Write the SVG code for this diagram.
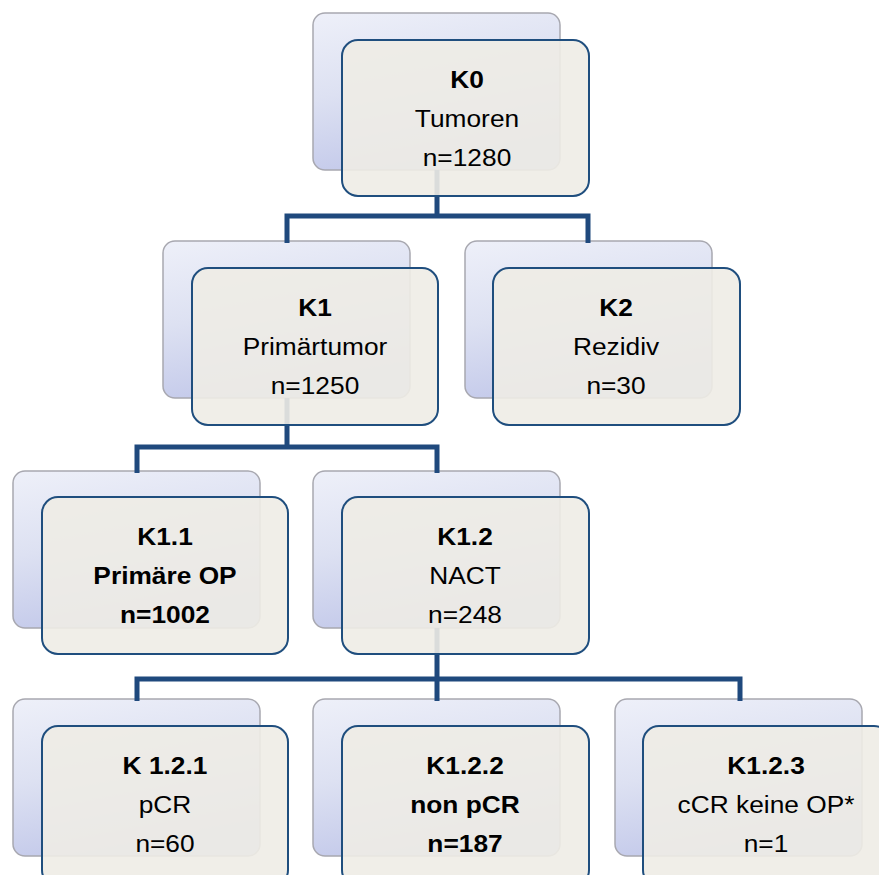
<svg xmlns="http://www.w3.org/2000/svg" width="879" height="875" viewBox="0 0 879 875">
<defs>
<linearGradient id="bg" x1="0" y1="0" x2="0.3" y2="1">
<stop offset="0" stop-color="#eef0f9"/>
<stop offset="0.5" stop-color="#dde1f2"/>
<stop offset="1" stop-color="#c3c9ea"/>
</linearGradient>
<style>
.back{fill:url(#bg);stroke:#a8a8b0;stroke-width:1.5}
.front{fill:#eeece5;fill-opacity:0.9;stroke:#1f4e7e;stroke-width:2}
.conn{fill:none;stroke:#1f497d;stroke-width:5;stroke-linejoin:miter}
text{font-family:"Liberation Sans",Arial,sans-serif;font-size:23.5px;fill:#000;text-anchor:middle}
.b{font-weight:bold}
</style>
</defs>
<rect width="879" height="875" fill="#ffffff"/>
<g id="backs">
<rect class="back" x="313" y="13" width="247" height="157" rx="12"/>
<rect class="back" x="163" y="241" width="247" height="157" rx="12"/>
<rect class="back" x="465" y="241" width="247" height="157" rx="12"/>
<rect class="back" x="13" y="471" width="247" height="157" rx="12"/>
<rect class="back" x="313" y="471" width="247" height="157" rx="12"/>
<rect class="back" x="13" y="699" width="247" height="157" rx="12"/>
<rect class="back" x="313" y="699" width="247" height="157" rx="12"/>
<rect class="back" x="615" y="699" width="247" height="157" rx="12"/>
</g>
<g id="connectors">
<path class="conn" d="M437,170 V216 M287,243 V216 H588 V243"/>
<path class="conn" d="M287,398 V447 M137,473 V447 H437 V473"/>
<path class="conn" d="M437,628 V679 M137,701 V679 H740 V701 M437,679 V701"/>
</g>
<g id="K0">
<rect class="front" x="342" y="40" width="247" height="156" rx="16"/>
<g transform="translate(467,0) scale(1.12,1)">
<text x="0" y="88" class="b">K0</text>
<text x="0" y="127">Tumoren</text>
<text x="0" y="166">n=1280</text>
</g>
</g>
<g id="K1">
<rect class="front" x="192" y="268" width="246" height="157" rx="16"/>
<g transform="translate(315,0) scale(1.12,1)">
<text x="0" y="316" class="b">K1</text>
<text x="0" y="355">Primärtumor</text>
<text x="0" y="394">n=1250</text>
</g>
</g>
<g id="K2">
<rect class="front" x="493" y="268" width="247" height="157" rx="16"/>
<g transform="translate(616,0) scale(1.12,1)">
<text x="0" y="316" class="b">K2</text>
<text x="0" y="355">Rezidiv</text>
<text x="0" y="394">n=30</text>
</g>
</g>
<g id="K1.1">
<rect class="front" x="42" y="497" width="246" height="157" rx="16"/>
<g transform="translate(165,0) scale(1.12,1)">
<text x="0" y="545" class="b">K1.1</text>
<text x="0" y="584" class="b">Primäre OP</text>
<text x="0" y="623" class="b">n=1002</text>
</g>
</g>
<g id="K1.2">
<rect class="front" x="342" y="497" width="247" height="157" rx="16"/>
<g transform="translate(465,0) scale(1.12,1)">
<text x="0" y="545" class="b">K1.2</text>
<text x="0" y="584">NACT</text>
<text x="0" y="623">n=248</text>
</g>
</g>
<g id="K1.2.1">
<rect class="front" x="42" y="726" width="246" height="160" rx="16"/>
<g transform="translate(165,0) scale(1.12,1)">
<text x="0" y="774" class="b">K 1.2.1</text>
<text x="0" y="813">pCR</text>
<text x="0" y="852">n=60</text>
</g>
</g>
<g id="K1.2.2">
<rect class="front" x="342" y="726" width="247" height="160" rx="16"/>
<g transform="translate(465,0) scale(1.12,1)">
<text x="0" y="774" class="b">K1.2.2</text>
<text x="0" y="813" class="b">non pCR</text>
<text x="0" y="852" class="b">n=187</text>
</g>
</g>
<g id="K1.2.3">
<rect class="front" x="643" y="726" width="247" height="160" rx="16"/>
<g transform="translate(766,0) scale(1.12,1)">
<text x="0" y="774" class="b">K1.2.3</text>
<text x="0" y="813">cCR keine OP*</text>
<text x="0" y="852">n=1</text>
</g>
</g>
</svg>
